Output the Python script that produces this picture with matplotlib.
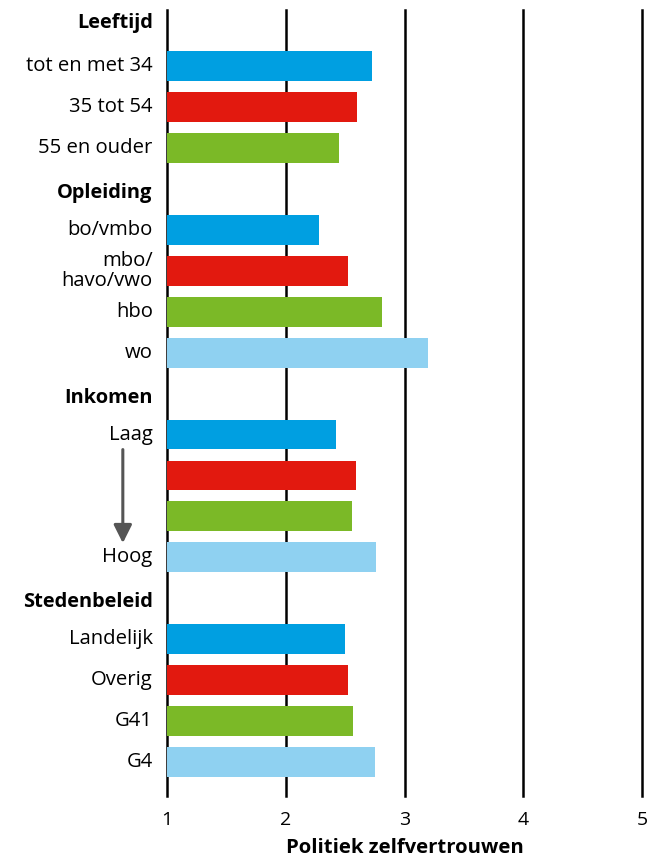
import numpy as np
import matplotlib.pyplot as plt

plt.rcParams['font.family'] = ['Open Sans', 'DejaVu Sans']

# groepen en waarden (politiek zelfvertrouwen, schaal 1-5)
groups = ["Leeftijd", "Opleiding", "Inkomen", "Stedenbeleid"]
labels_leeftijd = ["tot en met 34", "35 tot 54", "55 en ouder"]
labels_opleiding = ["bo/vmbo", "mbo/\nhavo/vwo", "hbo", "wo"]
labels_inkomen = ["Laag", "", "", "Hoog"]
labels_steden = ["Landelijk", "Overig", "G41", "G4"]

vals_leeftijd = [2.73, 2.60, 2.45]
vals_opleiding = [2.28, 2.52, 2.81, 3.20]
vals_inkomen = [2.42, 2.59, 2.56, 2.76]
vals_steden = [2.50, 2.52, 2.57, 2.75]

colors = ["#009fe1", "#e2190f", "#7bb927", "#8fd1f1"]
xticks = [1, 2, 3, 4, 5]

fig = plt.figure(figsize=(6.54, 8.58), dpi=100)
W, H = 654, 858
ax = fig.add_axes([167 / W, 1 - 796 / H, (642 - 167) / W, (796 - 10) / H])

all_labels = [labels_leeftijd, labels_opleiding, labels_inkomen, labels_steden]
all_vals = [vals_leeftijd, vals_opleiding, vals_inkomen, vals_steden]

pos = 0
for g, labs, vals in zip(groups, all_labels, all_vals):
    hy = pos - 0.05 if pos == 0 else pos + 0.1
    ax.text(-0.03, hy, g, transform=ax.get_yaxis_transform(), ha="right",
            va="center", fontsize=14.4, fontweight="bold")
    pos += 1
    for i, (lab, v) in enumerate(zip(labs, vals)):
        ax.barh(pos, v - 1, left=1, height=0.73, color=colors[i], zorder=2)
        ax.text(-0.03, pos, lab, transform=ax.get_yaxis_transform(), ha="right",
                va="center", fontsize=14.6, linespacing=1.0)
        pos += 1

for x in xticks:
    ax.axvline(x, color="black", linewidth=1.8, zorder=1, clip_on=False)

# pijl van laag naar hoog inkomen
ax.annotate("", xy=(-0.093, 12.72), xytext=(-0.093, 10.3),
            xycoords=ax.get_yaxis_transform(), textcoords=ax.get_yaxis_transform(),
            arrowprops=dict(arrowstyle="-|>,head_width=0.55,head_length=1.1",
                            color="#555555", linewidth=2.2))

ax.set_xlim(1, 5)
ax.set_ylim(18.83, -0.37)
ax.set_yticks([])
ax.set_xticks(xticks)
ax.set_xticklabels([str(x) for x in xticks], fontsize=14)
ax.tick_params(axis="x", length=0, pad=11)
for s in ax.spines.values():
    s.set_visible(False)
ax.set_xlabel("Politiek zelfvertrouwen", fontsize=14.6, fontweight="bold", labelpad=6)

fig.savefig("out.png", dpi=100)
